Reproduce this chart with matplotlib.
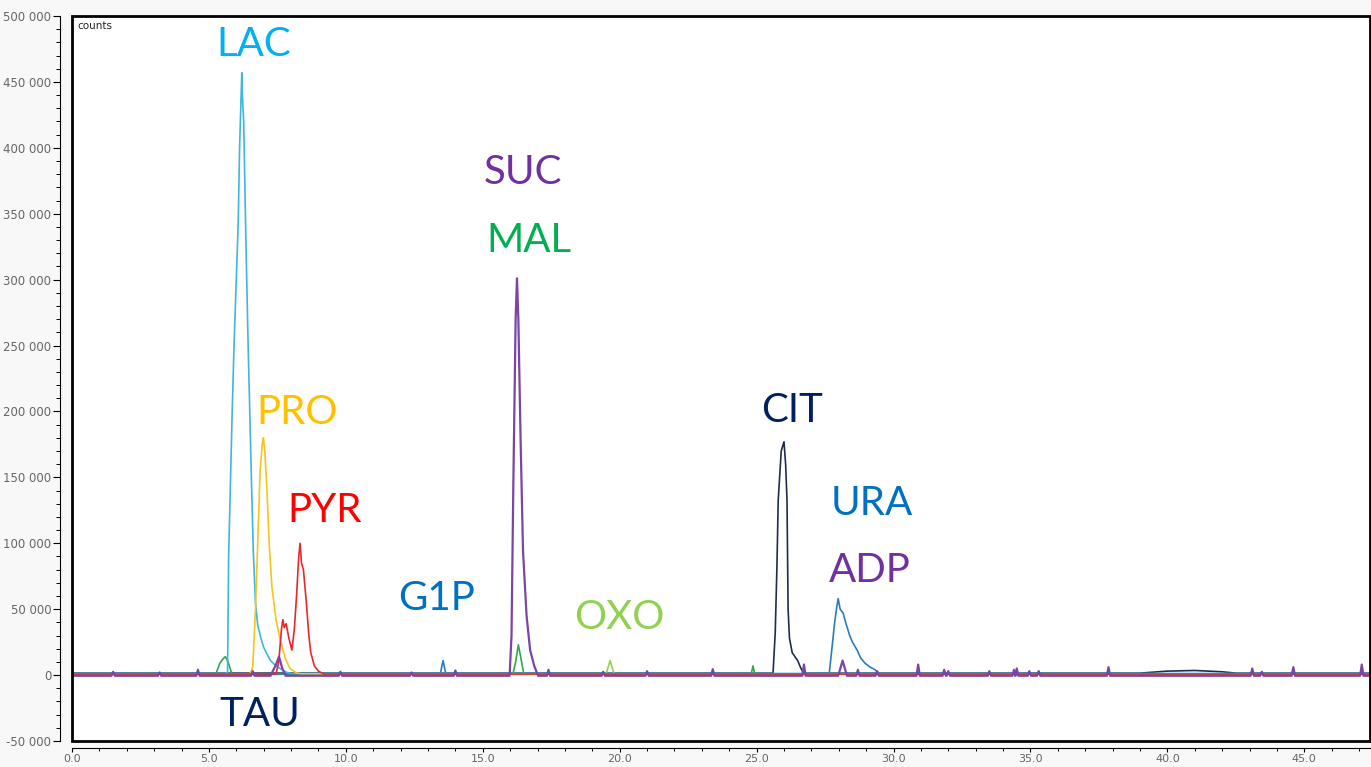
import matplotlib
matplotlib.use("Agg")
from matplotlib import pyplot as plt
from matplotlib.patches import Rectangle
from matplotlib.ticker import MultipleLocator, FuncFormatter

# retention time (min) / counts
lac_t = [0.0, 5.6, 5.68, 5.72, 5.85, 5.92, 6.07, 6.12, 6.2, 6.22, 6.27, 6.35, 6.43, 6.55, 6.62, 6.7, 6.78,
         6.9, 7.0, 7.12, 7.25, 7.45, 7.6, 7.85, 8.0, 47.4]
lac_y = [1200, 1200, 2000, 90000, 200000, 252000, 343000, 400000, 457000, 440000, 420000, 330000, 252000,
         150000, 94000, 55000, 38000, 28000, 21000, 16000, 11000, 7000, 5000, 2000, 1200, 1200]

pro_t = [0.0, 6.5, 6.6, 6.7, 6.76, 6.87, 6.95, 6.99, 7.04, 7.12, 7.2, 7.3, 7.45, 7.6, 7.8, 7.96, 8.2, 8.4, 47.4]
pro_y = [900, 900, 6000, 50000, 87000, 155000, 176000, 180000, 170000, 140000, 100000, 67000, 42000,
         27000, 12000, 5000, 1500, 900, 900]

pyr_t = [0.0, 7.45, 7.55, 7.65, 7.7, 7.75, 7.82, 7.92, 8.03, 8.12, 8.2, 8.28, 8.33, 8.38, 8.45, 8.55,
         8.65, 8.72, 8.85, 9.0, 9.2, 47.4]
pyr_y = [800, 800, 10000, 35000, 42000, 36000, 39000, 28000, 19000, 35000, 60000, 90000, 100000, 85000,
         80000, 57000, 30000, 17000, 7000, 3000, 800, 800]

mal_t = [0.0, 5.25, 5.4, 5.5, 5.6, 5.7, 5.84, 16.1, 16.2, 16.3, 16.4, 16.5, 24.8, 24.87, 24.93, 47.4]
mal_y = [700, 700, 9000, 12000, 14000, 10000, 700, 700, 10000, 23000, 12000, 700, 700, 7000, 700, 700]

suc_t = [7.25, 7.45, 7.56, 7.68, 7.8, 15.98, 16.05, 16.12, 16.2, 16.25, 16.3, 16.38, 16.47, 16.6,
         16.73, 16.88, 17.02, 27.98, 28.14, 28.3]
suc_y = [-500, 8000, 14000, 5000, -500, -500, 30000, 150000, 270000, 301000, 270000, 180000, 94000,
         45000, 19000, 7000, -500, -500, 11000, -500]

cit_t = [0.0, 25.6, 25.68, 25.74, 25.79, 25.9, 26.0, 26.06, 26.11, 26.15, 26.2, 26.3, 26.4, 26.5,
         26.6, 26.7, 26.8, 39.0, 40.0, 41.0, 42.0, 42.5, 47.4]
cit_y = [1500, 1500, 32000, 80000, 133000, 170000, 177000, 160000, 133000, 50000, 28000, 17000, 14000,
         11000, 6000, 2000, 1500, 1500, 3000, 3500, 2500, 1500, 1500]

ura_t = [0.0, 13.45, 13.55, 13.65, 27.65, 27.75, 27.85, 27.93, 27.98, 28.05, 28.16, 28.25, 28.4, 28.5,
         28.67, 28.8, 28.96, 29.15, 29.33, 29.5, 47.4]
ura_y = [1000, 1000, 11000, 1000, 1000, 20000, 40000, 52000, 58000, 50000, 47000, 40000, 30000, 25000,
         19000, 13000, 9000, 6000, 4000, 1000, 1000]

oxo_t = [0.0, 19.5, 19.65, 19.8, 47.4]
oxo_y = [600, 600, 11000, 600, 600]

# small spikes on the purple baseline
spike_t = [1.5, 3.2, 4.6, 6.6, 9.8, 12.4, 14.0, 17.4, 19.4, 21.0, 23.4, 26.73, 28.7, 29.4, 30.9, 31.85,
           32.0, 33.5, 34.4, 34.5, 34.96, 35.3, 37.85, 43.1, 43.45, 44.6, 47.1]
spike_h = [2500, 2000, 4000, 3000, 2500, 2000, 3500, 4000, 2500, 3000, 4500, 8000, 4000, 3000, 8000,
           4000, 3000, 3000, 4000, 5000, 3000, 3000, 6000, 5000, 2500, 6000, 8000]

labels = ["LAC", "SUC", "MAL", "PRO", "PYR", "CIT", "URA", "ADP", "G1P", "OXO", "TAU"]
label_x = [6.65, 16.47, 16.69, 8.22, 9.24, 26.3, 29.22, 29.15, 13.33, 19.98, 6.87]
label_y = [478000, 381000, 330000, 199000, 125000, 201000, 130000, 79000, 58000, 44000, -30000]
label_c = ["#00b0f0", "#7030a0", "#00b050", "#ffc000", "#ff0000", "#002060", "#0070c0", "#7030a0",
           "#0070c0", "#92d050", "#002060"]


def purple_trace(peak_t, peak_y, sp_t, sp_h):
    pts = list(zip(peak_t, peak_y))
    for t, h in zip(sp_t, sp_h):
        pts += [(t - 0.06, -500), (t, h), (t + 0.06, -500)]
    pts += [(0.0, -500), (47.4, -500)]
    pts.sort()
    return [p[0] for p in pts], [p[1] for p in pts]


fig = plt.figure(figsize=(13.71, 7.67), dpi=100, facecolor="#f8f8f8")
ax = fig.add_axes([72 / 1371, 1 - 741 / 767, 1298 / 1371, 725 / 767])
ax.set_facecolor("white")

ax.plot(cit_t, cit_y, color="#1f2d4d", lw=1.2)
ax.plot(oxo_t, oxo_y, color="#92d050", lw=1.2)
ax.plot(mal_t, mal_y, color="#2fa84f", lw=1.2)
ax.plot(ura_t, ura_y, color="#2b7bbf", lw=1.2)
ax.plot(lac_t, lac_y, color="#3fb6dc", lw=1.2)
ax.plot(pro_t, pro_y, color="#f7c41a", lw=1.2)
ax.plot(pyr_t, pyr_y, color="#e8262b", lw=1.2)
pt, py = purple_trace(suc_t, suc_y, spike_t, spike_h)
ax.plot(pt, py, color="#7a45a5", lw=1.6)

for lab, x, y, c in zip(labels, label_x, label_y, label_c):
    ax.text(x, y, lab, color=c, fontsize=29, family="Lato", ha="center", va="center")

ax.text(0.004, 0.993, "counts", transform=ax.transAxes, fontsize=7.5, color="#222222", va="top")

ax.set_xlim(0, 47.4)
ax.set_ylim(-50000, 500000)
ax.xaxis.set_major_locator(MultipleLocator(5))
ax.xaxis.set_minor_locator(MultipleLocator(1))
ax.yaxis.set_major_locator(MultipleLocator(50000))
ax.yaxis.set_minor_locator(MultipleLocator(10000))
ax.xaxis.set_major_formatter(FuncFormatter(lambda v, p: f"{v:.1f}"))
ax.yaxis.set_major_formatter(FuncFormatter(lambda v, p: f"{int(v):,}".replace(",", " ")))

for s in ["top", "right"]:
    ax.spines[s].set_visible(False)
ax.spines["left"].set_position(("outward", 9))
ax.spines["bottom"].set_position(("outward", 5))
ax.spines["left"].set_linewidth(0.8)
ax.spines["bottom"].set_linewidth(0.8)
ax.tick_params(axis="y", which="major", length=5, width=0.8, labelsize=8.5, labelcolor="#666666", pad=1)
ax.tick_params(axis="x", which="major", length=3, width=0.8, labelsize=8, labelcolor="#666666", pad=1)
ax.tick_params(which="minor", length=3, width=0.7)
ax.tick_params(axis="x", which="minor", length=2)

ax.add_patch(Rectangle((0, 0), 1, 1, transform=ax.transAxes, fill=False, ec="black", lw=2,
                       clip_on=False, zorder=5))

fig.savefig("out.png", dpi=100, facecolor=fig.get_facecolor())
